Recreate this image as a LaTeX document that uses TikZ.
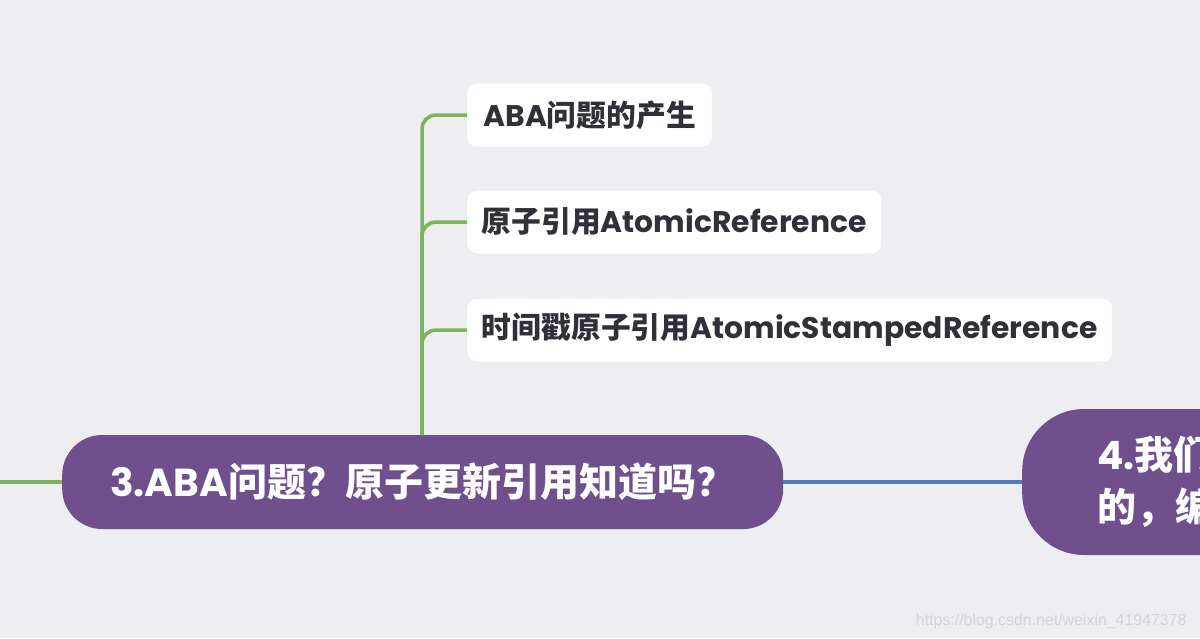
\documentclass[tikz,border=0pt]{standalone}
\usepackage{fontspec}
\setmainfont{Poppins}
\newfontfamily\cjk{Noto Sans CJK SC}
\newfontfamily\wmfont{Liberation Sans}
\newcommand\zh[1]{{\cjk #1}}
\definecolor{bgc}{RGB}{237,237,242}
\definecolor{topicc}{RGB}{111,80,140}
\definecolor{greenc}{RGB}{122,180,92}
\definecolor{bluec}{RGB}{80,122,196}
\definecolor{txtc}{RGB}{48,48,56}
\definecolor{wmc}{RGB}{212,212,220}
\begin{document}
\begin{tikzpicture}[x=1pt,y=-1pt,
  topic/.style={fill=topicc, text=white, font=\fontsize{39}{52}\selectfont\bfseries},
  child/.style={fill=white, rounded corners=10pt, text=txtc, anchor=west, minimum height=63pt, inner xsep=0pt, font=\fontsize{29.8}{32}\selectfont\bfseries},
  gline/.style={draw=greenc, line width=3.5pt},
  bline/.style={draw=bluec, line width=3.5pt},
  wm/.style={text=wmc, font=\wmfont\fontsize{15.9}{18}\selectfont}]
\fill[bgc] (0,0) rectangle (1200,638);
\useasboundingbox (0,0) rectangle (1200,638);
\begin{scope}
\clip (0,0) rectangle (1200,638);
\node[topic, rounded corners=40pt, anchor=west, minimum height=94pt, minimum width=721pt, inner xsep=0pt] (m) at (62,482) {3.ABA\zh{问题？原子更新引用知道吗？}\hspace{16pt}};
\node[child, minimum width=245pt] (c1) at (467,115) {ABA\zh{问题的产生}};
\node[child, minimum width=414pt] (c2) at (467,222) {\zh{原子引用}AtomicReference};
\node[child, minimum width=645pt] (c3) at (467,330) {\zh{时间戳原子引用}AtomicStampedReference};
\node[topic, rounded corners=62pt, anchor=west, minimum height=146pt, inner xsep=75pt, text width=300pt, align=left] (r) at (1022,482) {4.\zh{我们}\\\zh{的，编}};
\coordinate (t) at (422,435);
\coordinate (l) at (0,482);
\draw[gline] (l) -- (m.west);
\draw[gline, rounded corners=14pt] (t) |- (c1.west);
\draw[gline, rounded corners=14pt] (t) |- (c2.west);
\draw[gline, rounded corners=14pt] (t) |- (c3.west);
\draw[bline] (m.east) -- (r.west);
\node[wm, anchor=east] (w) at (1190,621) {https://blog.csdn.net/weixin\_41947378};
\end{scope}
\end{tikzpicture}
\end{document}
